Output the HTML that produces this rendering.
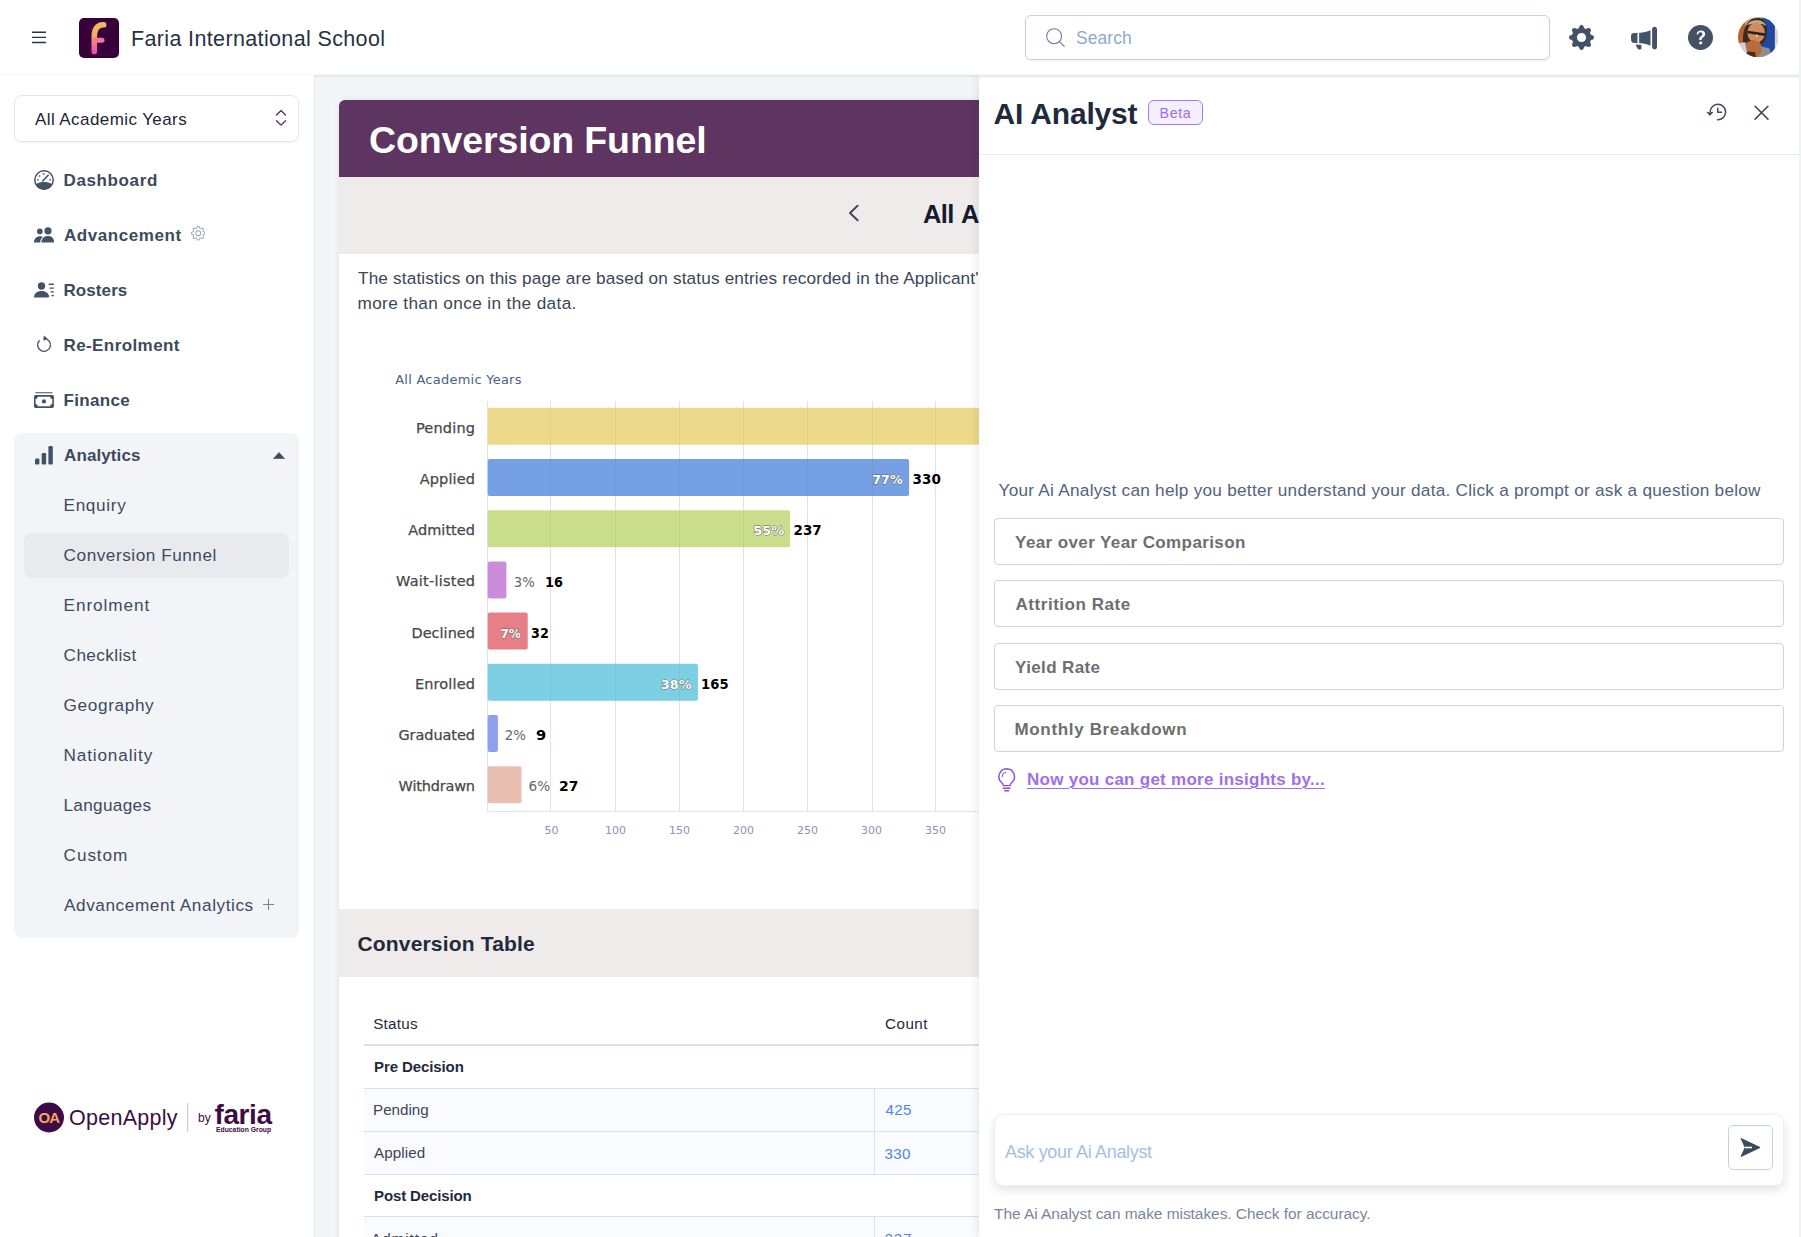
<!DOCTYPE html>
<html lang="en">
<head>
<meta charset="utf-8">
<title>Conversion Funnel - Faria International School</title>
<style>
*{box-sizing:border-box;margin:0;padding:0}
html,body{width:1801px;height:1237px;overflow:hidden;background:#fff}
body{font-family:"Liberation Sans",sans-serif;color:#3d4a5c;position:relative}
.abs{position:absolute}
.t{position:absolute;white-space:nowrap;line-height:1}
/* header */
#hdr{position:absolute;left:0;top:0;width:1799px;height:75px;background:#fff;z-index:8;border-bottom:1px solid #f7f8fa}
#edge{position:absolute;left:1799px;top:0;width:2px;height:1237px;background:#f1f3f7;z-index:20}
/* sidebar */
#side{position:absolute;left:0;top:75px;width:315px;height:1162px;background:#fff;border-right:1px solid #e6e9ee}
.nav{position:absolute;left:64px;font-weight:bold;font-size:17px;color:#3d4a5c;white-space:nowrap;line-height:20px}
.sub{position:absolute;left:64px;font-size:17.2px;color:#3d4a5c;white-space:nowrap;line-height:20px}
/* main */
#main{position:absolute;left:315px;top:75px;width:664px;height:1162px;background:#f3f6f8;overflow:hidden;box-shadow:inset 0 3px 3px -2px rgba(0,0,0,.10)}
/* panel */
#panel{position:absolute;left:979px;top:75px;width:820px;height:1162px;background:#fff;border-top:2px solid #e9ebee;z-index:6;box-shadow:-3px 0 8px rgba(16,24,40,.07)}
.prompt{position:absolute;left:15px;width:790px;height:47px;border:1px solid #cfd4dc;border-radius:4px;background:#fff}
.prompt span{position:absolute;left:20px;top:13px;font-weight:bold;font-size:17px;color:#6e6e6e;white-space:nowrap;line-height:20px}
/*FIT*/
#h_title{letter-spacing:0.360px;margin-left:0.00px;margin-top:1.00px}
#h_search{letter-spacing:0.042px;margin-left:0.00px;margin-top:1.00px}
#s_sel{letter-spacing:0.412px;margin-left:0.06px;margin-top:1.00px}
#n1{letter-spacing:0.625px;margin-left:-0.50px;margin-top:1.00px}
#n2{letter-spacing:0.556px;margin-left:0.00px;margin-top:1.00px}
#n3{letter-spacing:0.083px;margin-left:-0.50px;margin-top:1.00px}
#n4{letter-spacing:0.410px;margin-left:-0.50px;margin-top:1.00px}
#n5{letter-spacing:0.332px;margin-left:-0.50px;margin-top:1.00px}
#n6{letter-spacing:0.108px;margin-left:0.00px;margin-top:1.00px}
#u1{letter-spacing:0.667px;margin-left:-0.50px;margin-top:1.00px}
#u2{letter-spacing:0.531px;margin-left:-0.40px;margin-top:1.00px}
#u3{letter-spacing:0.935px;margin-left:-0.50px;margin-top:1.00px}
#u4{letter-spacing:0.378px;margin-left:-0.40px;margin-top:1.00px}
#u5{letter-spacing:0.631px;margin-left:-0.40px;margin-top:1.00px}
#u6{letter-spacing:0.850px;margin-left:-0.50px;margin-top:1.00px}
#u7{letter-spacing:0.315px;margin-left:-0.50px;margin-top:1.00px}
#u8{letter-spacing:0.900px;margin-left:-0.40px;margin-top:1.00px}
#u9{letter-spacing:0.575px;margin-left:0.00px;margin-top:1.00px}
#m_title{letter-spacing:-0.124px;margin-left:0.00px;margin-top:1.00px}
#m_all{letter-spacing:-0.700px;margin-left:-0.93px;margin-top:1.00px}
#m_p1{letter-spacing:0.154px;margin-left:0.00px;margin-top:1.00px}
#m_p2{letter-spacing:0.371px;margin-left:-0.50px;margin-top:1.00px}
#m_ct{letter-spacing:0.180px;margin-left:-0.60px;margin-top:1.00px}
#t_status{letter-spacing:0.268px;margin-left:-0.83px;margin-top:0.00px}
#t_count{letter-spacing:0.500px;margin-left:0.00px;margin-top:0.00px}
#t_pre{letter-spacing:-0.093px;margin-left:0.00px;margin-top:-1.00px}
#t_pend{letter-spacing:0.000px;margin-left:-1.00px;margin-top:0.00px}
#t_425{letter-spacing:0.250px;margin-left:0.50px;margin-top:0.00px}
#t_appl{letter-spacing:0.083px;margin-left:0.00px;margin-top:-1.00px}
#t_330{letter-spacing:0.250px;margin-left:-0.50px;margin-top:0.00px}
#t_post{letter-spacing:-0.125px;margin-left:0.00px;margin-top:0.00px}
#t_adm{letter-spacing:1.001px;margin-left:-3.00px;margin-top:1.00px}
#t_237{letter-spacing:0.750px;margin-left:-0.50px;margin-top:1.00px}
#p_title{letter-spacing:-0.166px;margin-left:-0.50px;margin-top:2.00px}
#p_beta{letter-spacing:0.677px;margin-left:-0.50px;margin-top:0.00px}
#p_intro{letter-spacing:0.264px;margin-left:-0.50px;margin-top:1.00px}
#p_pr1{letter-spacing:0.395px;margin-left:0.10px;margin-top:1.00px}
#p_pr2{letter-spacing:0.543px;margin-left:0.50px;margin-top:1.00px}
#p_pr3{letter-spacing:0.368px;margin-left:0.10px;margin-top:1.00px}
#p_pr4{letter-spacing:0.657px;margin-left:-0.50px;margin-top:1.00px}
#p_link{letter-spacing:0.265px;margin-left:1.00px;margin-top:0.00px}
#p_ask{letter-spacing:-0.334px;margin-left:0.00px;margin-top:0.00px}
#p_note{letter-spacing:-0.057px;margin-left:-0.03px;margin-top:1.00px}
/*ENDFIT*/
</style>
</head>
<body>

<!-- ================= HEADER ================= -->
<div id="hdr">
  <svg class="abs" style="left:32px;top:31px" width="14" height="13" viewBox="0 0 14 13"><path d="M0 1.3H14M0 6.4H14M0 11.5H14" stroke="#2a3446" stroke-width="1.4" fill="none"/></svg>
  <svg class="abs" style="left:79px;top:17.5px" width="40" height="40" viewBox="0 0 40 40">
    <defs><linearGradient id="fg" x1="0" y1="0" x2="0" y2="1"><stop offset="0" stop-color="#f4b95a"/><stop offset=".45" stop-color="#f2a668"/><stop offset="1" stop-color="#ee4fa8"/></linearGradient></defs>
    <rect width="40" height="40" rx="5" fill="#37003b"/>
    <path d="M24.600 6.800C18.500 6.600 15.300 11 15.300 18V33.400" stroke="url(#fg)" stroke-width="5.600" stroke-linecap="round" fill="none"/>
    <path d="M16 22.3H23" stroke="#f0799a" stroke-width="5" stroke-linecap="round" fill="none"/>
  </svg>
  <div class="t" id="h_title" style="left:131px;top:28px;font-size:21.5px;color:#273142">Faria International School</div>

  <div class="abs" style="left:1025px;top:15px;width:525px;height:45px;border:1px solid #c7d0dd;border-radius:6px;box-shadow:0 1px 2px rgba(16,24,40,.06)"></div>
  <svg class="abs" style="left:1045px;top:27px" width="21" height="21" viewBox="0 0 21 21"><circle cx="9.1" cy="9.2" r="7.5" stroke="#6a7f9f" stroke-width="1.1" fill="none"/><path d="M14.5 14.6L19.2 19.4" stroke="#6a7f9f" stroke-width="1.2" stroke-linecap="round"/></svg>
  <div class="t" id="h_search" style="left:1076px;top:29px;font-size:17.5px;color:#8eaacd">Search</div>

  <!-- gear -->
  <svg class="abs" style="left:1569px;top:25px" width="25" height="25" viewBox="0 0 16 16"><path fill="#445268" d="M9.405 1.05c-.413-1.4-2.397-1.4-2.81 0l-.1.34a1.464 1.464 0 0 1-2.105.872l-.31-.17c-1.283-.698-2.686.705-1.987 1.987l.169.311c.446.82.023 1.841-.872 2.105l-.34.1c-1.4.413-1.4 2.397 0 2.81l.34.1a1.464 1.464 0 0 1 .872 2.105l-.17.31c-.698 1.283.705 2.686 1.987 1.987l.311-.169a1.464 1.464 0 0 1 2.105.872l.1.34c.413 1.4 2.397 1.4 2.81 0l.1-.34a1.464 1.464 0 0 1 2.105-.872l.31.17c1.283.698 2.686-.705 1.987-1.987l-.169-.311a1.464 1.464 0 0 1 .872-2.105l.34-.1c1.400-.413 1.400-2.397 0-2.810l-.340-.100a1.464 1.464 0 0 1-.872-2.105l.170-.310c.698-1.283-.705-2.686-1.987-1.987l-.311.169a1.464 1.464 0 0 1-2.105-.872zM8 10.930a2.929 2.929 0 1 1 0-5.860 2.929 2.929 0 0 1 0 5.858z"/></svg>
  <!-- megaphone -->
  <svg class="abs" style="left:1631px;top:25px" width="26" height="26" viewBox="0 0 16 16"><path fill="#445268" d="M13 2.500a1.500 1.500 0 0 1 3 0v11a1.500 1.500 0 0 1-3 0zm-1 .724c-2.067.950-4.539 1.481-7 1.656v6.237a25 25 0 0 1 1.088.085c2.053.204 4.038.668 5.912 1.560zm-8 7.841V4.934c-.680.027-1.399.043-2.008.053A2.020 2.020 0 0 0 0 7v2c0 1.106.896 1.996 1.994 2.009l.496.008a64 64 0 0 1 1.510.048m1.390 1.081q.428.032.850.078l.253 1.690a1 1 0 0 1-.983 1.187h-.548a1 1 0 0 1-.916-.599l-1.314-2.480a66 66 0 0 1 1.692.064q.491.026.966.060"/></svg>
  <!-- help -->
  <svg class="abs" style="left:1687.7px;top:25px" width="25" height="25" viewBox="0 0 16 16"><path fill="#445268" d="M16 8A8 8 0 1 1 0 8a8 8 0 0 1 16 0M5.496 6.033h.825c.138 0 .248-.113.266-.250.090-.656.540-1.134 1.342-1.134.686 0 1.314.343 1.314 1.168 0 .635-.374.927-.965 1.371-.673.489-1.206 1.060-1.168 1.987l.3.217a.250.250 0 0 0 .250.246h.811a.250.250 0 0 0 .250-.250v-.105c0-.718.273-.927 1.010-1.486.609-.463 1.244-.977 1.244-2.056 0-1.511-1.276-2.241-2.673-2.241-1.267 0-2.655.590-2.750 2.286a.237.237 0 0 0 .241.247m2.325 6.443c.610 0 1.029-.394 1.029-.927 0-.552-.420-.940-1.029-.940-.584 0-1.009.388-1.009.940 0 .533.425.927 1.010.927z"/></svg>
  <!-- avatar -->
  <svg class="abs" style="left:1737.500px;top:17px" width="40.400" height="40.400" viewBox="0 0 40 40">
    <defs><clipPath id="av"><circle cx="20" cy="20" r="20"/></clipPath><filter id="avb" x="-10%" y="-10%" width="120%" height="120%"><feGaussianBlur stdDeviation=".7"/></filter></defs>
    <g clip-path="url(#av)"><g filter="url(#avb)">
      <rect x="-2" y="-2" width="44" height="44" fill="#c9a98a"/>
      <rect x="-2" y="-2" width="9" height="32" fill="#b4642c"/>
      <path d="M5 27C4 12 9 1 19 1S31 8 30 24L24 30H8Z" fill="#3b2b20"/>
      <path d="M9 8C11 2 26 1 28 9L24 7H13Z" fill="#b9aa8c"/>
      <path d="M22 -2L34 2L38 10V32L33 38L22 30L28 21L29 9Z" fill="#2149a2"/>
      <rect x="36.500" y="-2" width="6" height="44" fill="#dad7cb"/>
      <ellipse cx="18" cy="15.500" rx="8.600" ry="10" fill="#d08c5e"/>
      <path d="M9.500 13.600L27 16.200L26.800 18.800L18 17.500L9.300 16.200Z" fill="#2b2422"/>
      <path d="M18.500 16.500L20 19.500L17.500 19.500Z" fill="#f3d9c4"/>
      <path d="M7 26L15 22.500L22 25.500L25 33L19 41H8Z" fill="#b56d3e"/>
      <path d="M7 34L17 35L18 42H7Z" fill="#43301f"/>
      <path d="M22 29L31 31L33 38L25 42L20 40L24 34Z" fill="#8d8e92"/>
      <path d="M0 26L7 25L9 36L3 36Z" fill="#cfd2d9"/>
    </g></g>
  </svg>
</div>

<!-- ================= SIDEBAR ================= -->
<div id="side">
  <div class="abs" style="left:14px;top:20px;width:285px;height:47px;border:1px solid #e5e4ec;border-radius:8px;box-shadow:0 1px 2px rgba(16,24,40,.05)"></div>
  <div class="t" id="s_sel" style="left:35px;top:35px;font-size:17px;color:#1e2635">All Academic Years</div>
  <svg class="abs" style="left:275px;top:34px" width="12" height="19" viewBox="0 0 12 19"><path d="M1.500 6L6 1.500L10.500 6M1.500 11.700L6 16.100L10.500 11.700" stroke="#5b2a66" stroke-width="1.300" fill="none" stroke-linecap="round" stroke-linejoin="round"/></svg>

  <!-- icons -->
  <svg class="abs" style="left:34px;top:95px" width="20" height="20" viewBox="0 0 20 20"><circle cx="10" cy="10" r="9.200" fill="none" stroke="#445268" stroke-width="1.500"/><path d="M1.800 14.200C4.200 12.500 7 12 10 12S15.800 12.500 18.200 14.200A8.900 8.900 0 0 1 1.800 14.200Z" fill="#445268"/><path d="M8.700 11L14.200 5.300" stroke="#445268" stroke-width="1.600" stroke-linecap="round"/><circle cx="5.600" cy="6" r=".85" fill="#445268"/><circle cx="9.600" cy="3.900" r=".85" fill="#445268"/><circle cx="3.900" cy="9.800" r=".85" fill="#445268"/><circle cx="16.100" cy="9.800" r=".85" fill="#445268"/></svg>
  <svg class="abs" style="left:34px;top:152.200px" width="20" height="16" viewBox="0 0 20 16"><g fill="#445268"><circle cx="5.800" cy="4.400" r="2.800"/><circle cx="14" cy="3.800" r="3.600"/><path d="M7.500 15.500C7.500 11.500 10 9 14 9S20 11.500 20 14.500C20 15.200 19.600 15.500 19 15.500Z"/><path d="M0 15.500C0 11.800 2.500 9.300 6 9.300C7.200 9.300 8.200 9.600 9 10.100C7.200 11.400 6.300 13.200 6.300 15.500Z"/></g></svg>
  <svg class="abs" style="left:34px;top:207.200px" width="21" height="16" viewBox="0 0 21 16"><g fill="#445268"><circle cx="7.500" cy="4" r="3.700"/><path d="M0 15.500C0 11.500 3 9 7.500 9S15 11.500 15 14.500C15 15.200 14.600 15.500 14 15.500Z"/><rect x="14.500" y="1.600" width="5.500" height="1.300" rx=".6"/><rect x="15.500" y="5.400" width="4.500" height="1.300" rx=".6"/><rect x="16.500" y="9.200" width="3.500" height="1.300" rx=".6"/><rect x="17.300" y="13" width="2.700" height="1.300" rx=".6"/></g></svg>
  <svg class="abs" style="left:35px;top:259px" width="18" height="20" viewBox="0 0 18 20"><path d="M9 4.500A6.400 6.400 0 1 1 4.200 6.700" fill="none" stroke="#445268" stroke-width="1.400" stroke-linecap="round"/><path d="M8.700 1.500L12.300 4.300L8.700 7Z" fill="#445268"/></svg>
  <svg class="abs" style="left:34px;top:317px" width="20" height="17" viewBox="0 0 20 17"><rect x="1.200" y=".3" width="17.400" height="1" rx=".5" fill="#445268"/><rect x="0" y="3" width="19.900" height="12.900" rx="1.600" fill="#445268"/><path d="M3.800 4.700H16.100A2.200 2.200 0 0 0 18.300 6.900V12A2.200 2.200 0 0 0 16.100 14.200H3.800A2.200 2.200 0 0 0 1.600 12V6.900A2.200 2.200 0 0 0 3.800 4.700Z" fill="#fff"/><circle cx="9.950" cy="9.450" r="2.100" fill="#445268"/></svg>

  <div class="nav" id="n1" style="top:95px">Dashboard</div>
  <div class="nav" id="n2" style="top:150px">Advancement</div>
  <svg class="abs" style="left:190.500px;top:151px" width="14.500" height="14.500" viewBox="0 0 16 16"><path fill="#9aa3b2" d="M8 4.754a3.246 3.246 0 1 0 0 6.492 3.246 3.246 0 0 0 0-6.492M5.754 8a2.246 2.246 0 1 1 4.492 0 2.246 2.246 0 0 1-4.492 0"/><path fill="#9aa3b2" d="M9.796 1.343c-.527-1.790-3.065-1.790-3.592 0l-.094.319a.873.873 0 0 1-1.255.520l-.292-.160c-1.640-.892-3.433.902-2.540 2.541l.159.292a.873.873 0 0 1-.520 1.255l-.319.094c-1.790.527-1.790 3.065 0 3.592l.319.094a.873.873 0 0 1 .520 1.255l-.160.292c-.892 1.640.901 3.434 2.541 2.540l.292-.159a.873.873 0 0 1 1.255.520l.094.319c.527 1.790 3.065 1.790 3.592 0l.094-.319a.873.873 0 0 1 1.255-.520l.292.160c1.640.893 3.434-.902 2.540-2.541l-.159-.292a.873.873 0 0 1 .520-1.255l.319-.094c1.790-.527 1.790-3.065 0-3.592l-.319-.094a.873.873 0 0 1-.520-1.255l.160-.292c.893-1.640-.902-3.433-2.541-2.540l-.292.159a.873.873 0 0 1-1.255-.520zm-2.633.283c.246-.835 1.428-.835 1.674 0l.094.319a1.873 1.873 0 0 0 2.693 1.115l.291-.160c.764-.415 1.600.420 1.184 1.185l-.159.292a1.873 1.873 0 0 0 1.116 2.692l.318.094c.835.246.835 1.428 0 1.674l-.319.094a1.873 1.873 0 0 0-1.115 2.693l.160.291c.415.764-.420 1.600-1.185 1.184l-.291-.159a1.873 1.873 0 0 0-2.693 1.116l-.094.318c-.246.835-1.428.835-1.674 0l-.094-.319a1.873 1.873 0 0 0-2.692-1.115l-.292.160c-.764.415-1.600-.420-1.184-1.185l.159-.291A1.873 1.873 0 0 0 1.945 8.930l-.319-.094c-.835-.246-.835-1.428 0-1.674l.319-.094A1.873 1.873 0 0 0 3.060 4.377l-.160-.292c-.415-.764.420-1.600 1.185-1.184l.292.159a1.873 1.873 0 0 0 2.692-1.115z"/></svg>
  <div class="nav" id="n3" style="top:205px">Rosters</div>
  <div class="nav" id="n4" style="top:260px">Re-Enrolment</div>
  <div class="nav" id="n5" style="top:315px">Finance</div>

  <div class="abs" style="left:14px;top:358px;width:285px;height:505px;background:#f3f4f8;border-radius:8px"></div>
  <svg class="abs" style="left:35px;top:370.500px" width="18" height="19" viewBox="0 0 18 19"><g fill="#445268"><rect x="0" y="12.500" width="4.400" height="6" rx="1.200"/><rect x="6.700" y="7" width="4.400" height="11.500" rx="1.200"/><rect x="13.400" y="0" width="4.400" height="18.500" rx="1.200"/></g></svg>
  <div class="nav" id="n6" style="top:370px">Analytics</div>
  <svg class="abs" style="left:273px;top:377px" width="12" height="7" viewBox="0 0 12 7"><path d="M6 .5L11.500 6.500H.5Z" fill="#3d4a5c" stroke="#3d4a5c" stroke-width=".6" stroke-linejoin="round"/></svg>

  <div class="abs" style="left:24px;top:458px;width:265px;height:45px;background:#e9eaee;border-radius:8px"></div>
  <div class="sub" id="u1" style="top:419px">Enquiry</div>
  <div class="sub" id="u2" style="top:469px">Conversion Funnel</div>
  <div class="sub" id="u3" style="top:519px">Enrolment</div>
  <div class="sub" id="u4" style="top:569px">Checklist</div>
  <div class="sub" id="u5" style="top:619px">Geography</div>
  <div class="sub" id="u6" style="top:669px">Nationality</div>
  <div class="sub" id="u7" style="top:719px">Languages</div>
  <div class="sub" id="u8" style="top:769px">Custom</div>
  <div class="sub" id="u9" style="top:819px">Advancement Analytics</div>
  <svg class="abs" style="left:263px;top:824px" width="11" height="11" viewBox="0 0 11 11"><path d="M5.500 0V11M0 5.500H11" stroke="#7b8494" stroke-width="1.100"/></svg>

  <!-- footer logo -->
  <svg class="abs" style="left:34px;top:1027px" width="240" height="32" viewBox="0 0 240 32">
    <circle cx="15" cy="15.500" r="15" fill="#3d0b45"/>
    <text x="4.500" y="21" font-family="Liberation Sans, sans-serif" font-weight="bold" font-size="15" fill="#f3a55f" letter-spacing="-1">OA</text>
    <text x="35" y="23" font-family="Liberation Sans, sans-serif" font-size="21.500" fill="#3d0b45" textLength="108.500" lengthAdjust="spacing">OpenApply</text>
    <rect x="153" y="1" width="1.200" height="29" fill="#d9c9d6"/>
    <text x="164" y="20" font-family="Liberation Sans, sans-serif" font-size="12" fill="#3d0b45">by</text>
    <text x="180.500" y="22.200" font-family="Liberation Sans, sans-serif" font-weight="bold" font-size="28" fill="#3d0b45" textLength="57.500" lengthAdjust="spacing">faria</text>
    <text x="182" y="30" font-family="Liberation Sans, sans-serif" font-weight="bold" font-size="6.800" fill="#3d0b45">Education Group</text>
  </svg>
</div>

<!-- ================= MAIN ================= -->
<div id="main">
  <!-- coordinates inside #main are page - (315,75) -->
  <div class="abs" style="left:24px;top:25px;width:700px;height:1200px;background:#fff;border-radius:6px 6px 0 0;overflow:hidden;box-shadow:0 0 5px rgba(30,40,60,.10)">
    <div class="abs" style="left:0;top:0;width:700px;height:77px;background:#5e3461"></div>
    <div class="t" id="m_title" style="left:30px;top:21px;font-size:37.500px;font-weight:bold;color:#fff">Conversion Funnel</div>
    <div class="abs" style="left:0;top:77px;width:700px;height:76.500px;background:#efebeb"></div>
    <svg class="abs" style="left:509px;top:103.700px" width="11" height="18" viewBox="0 0 11 18"><path d="M9.600 1.700L2 9L9.600 16.300" stroke="#3d4a5c" stroke-width="2" fill="none" stroke-linecap="round" stroke-linejoin="round"/></svg>
    <div class="t" id="m_all" style="left:585px;top:101px;font-size:25.500px;font-weight:bold;color:#141b2d"><span id="m_all_a">All</span> <span id="m_all_b" style="margin-left:1px">A</span><span style="margin-left:6px">cademic Years</span></div>

    <div class="t" id="m_p1" style="left:19px;top:169px;font-size:17.200px;color:#3d4556"><span id="m_p1a">The statistics on this page are based on status entries recorded in the Applican</span>t's history, so an applicant may appear</div>
    <div class="t" id="m_p2" style="left:19px;top:194px;font-size:17.200px;color:#3d4556">more than once in the data.</div>

    <!-- chart -->
    <svg class="abs" style="left:0;top:250px" width="700" height="520" viewBox="0 0 700 520" font-family="DejaVu Sans, Liberation Sans, sans-serif">
      <!-- svg origin = page (339,350) -->
      <g stroke="#ebedf2" stroke-width="1">
        <path d="M211.500 51V461M276.500 51V461M340.500 51V461M404.500 51V461M468.500 51V461M533.500 51V461M596.500 51V461M660.500 51V461"/>
      </g>
      <path d="M148.500 51V461.500H700" stroke="#dfe3ee" stroke-width="1" fill="none"/>
      <text x="56.200" y="33.700" font-size="13" fill="#4a5f85" textLength="126.300" lengthAdjust="spacing">All Academic Years</text>
      <g>
        <rect x="148.700" y="57.8" width="551.0" height="37" rx="2" fill="#ecd98a"/>
        <rect x="148.700" y="109.0" width="421.4" height="37" rx="2" fill="#76a0e4"/>
        <rect x="148.700" y="160.2" width="302.4" height="37" rx="2" fill="#c9dd8b"/>
        <rect x="148.700" y="211.4" width="18.7" height="37" rx="2" fill="#cc8cdc"/>
        <rect x="148.700" y="262.6" width="40.0" height="37" rx="2" fill="#e67f86"/>
        <rect x="148.700" y="313.8" width="210.3" height="37" rx="2" fill="#7dd0e4"/>
        <rect x="148.700" y="365.0" width="10.2" height="37" rx="2" fill="#8c9ff0"/>
        <rect x="148.700" y="416.2" width="33.8" height="37" rx="2" fill="#e8bfb0"/>
      </g>
      <path d="M211.500 51V461M276.500 51V461M340.500 51V461M404.500 51V461M468.500 51V461M533.500 51V461M596.500 51V461M660.500 51V461" stroke="#000" stroke-opacity=".045" stroke-width="1"/>
      <g font-size="14.500" fill="#484848" stroke="#484848" stroke-width=".25">
        <text x="76.9" y="82.8" textLength="59.1" lengthAdjust="spacing">Pending</text>
        <text x="80.7" y="133.9" textLength="55.3" lengthAdjust="spacing">Applied</text>
        <text x="69.2" y="184.7" textLength="66.8" lengthAdjust="spacing">Admitted</text>
        <text x="57.0" y="236.0" textLength="79.0" lengthAdjust="spacing">Wait-listed</text>
        <text x="72.5" y="287.5" textLength="63.5" lengthAdjust="spacing">Declined</text>
        <text x="75.9" y="338.6" textLength="60.1" lengthAdjust="spacing">Enrolled</text>
        <text x="59.4" y="389.8" textLength="76.6" lengthAdjust="spacing">Graduated</text>
        <text x="59.6" y="441.0" textLength="76.4" lengthAdjust="spacing">Withdrawn</text>
      </g>
      <g font-size="13" font-weight="bold" fill="#fff" stroke="#5f5f5f" stroke-width=".9" stroke-linejoin="round" paint-order="stroke">
        <text x="533.3" y="134.1" textLength="30.3" lengthAdjust="spacingAndGlyphs">77%</text>
        <text x="414.2" y="185.3" textLength="31.1" lengthAdjust="spacingAndGlyphs">55%</text>
        <text x="161.4" y="287.7" textLength="20.5" lengthAdjust="spacingAndGlyphs">7%</text>
        <text x="321.8" y="338.9" textLength="30.8" lengthAdjust="spacingAndGlyphs">38%</text>
      </g>
      <g font-size="13.500" fill="#666">
        <text x="174.8" y="236.5" textLength="20.9" lengthAdjust="spacingAndGlyphs">3%</text>
        <text x="165.7" y="390.1" textLength="21.2" lengthAdjust="spacingAndGlyphs">2%</text>
        <text x="189.5" y="441.3" textLength="21.6" lengthAdjust="spacingAndGlyphs">6%</text>
      </g>
      <g font-size="13.500" fill="#000" font-weight="bold">
        <text x="573.6" y="134.1" textLength="28.2" lengthAdjust="spacingAndGlyphs">330</text>
        <text x="454.5" y="185.3" textLength="28.2" lengthAdjust="spacingAndGlyphs">237</text>
        <text x="206.1" y="236.5" textLength="17.9" lengthAdjust="spacingAndGlyphs">16</text>
        <text x="192.1" y="287.7" textLength="17.8" lengthAdjust="spacingAndGlyphs">32</text>
        <text x="362.1" y="338.9" textLength="27.5" lengthAdjust="spacingAndGlyphs">165</text>
        <text x="196.9" y="390.1" textLength="10.2" lengthAdjust="spacingAndGlyphs">9</text>
        <text x="220.0" y="441.3" textLength="19.4" lengthAdjust="spacingAndGlyphs">27</text>
      </g>
      <g font-size="11" fill="#8a93b5" text-anchor="middle">
        <text x="212.500" y="483.500">50</text>
        <text x="276.500" y="483.500">100</text>
        <text x="340.500" y="483.500">150</text>
        <text x="404.500" y="483.500">200</text>
        <text x="468.500" y="483.500">250</text>
        <text x="532.500" y="483.500">300</text>
        <text x="596.500" y="483.500">350</text>
        <text x="660.500" y="483.500">400</text>
      </g>
    </svg>

    <!-- conversion table -->
    <div class="abs" style="left:0;top:809px;width:700px;height:68px;background:#efebeb"></div>
    <div class="t" id="m_ct" style="left:19px;top:832px;font-size:21px;font-weight:bold;color:#1f2a3d">Conversion Table</div>

    <div class="t" id="t_status" style="left:35px;top:916px;font-size:15.200px;color:#1f2a3d">Status</div>
    <div class="t" id="t_count" style="left:546px;top:916px;font-size:15.200px;color:#1f2a3d">Count</div>
    <div class="abs" style="left:25px;top:944px;width:675px;height:2px;background:#d4e2f4"></div>
    <div class="t" id="t_pre" style="left:35px;top:960px;font-size:15px;font-weight:bold;color:#1f2a3d">Pre Decision</div>
    <div class="abs" style="left:25px;top:989px;width:675px;height:85px;background:#f9fbfe"></div>
    <div class="abs" style="left:25px;top:988px;width:675px;height:1px;background:#d4e2f4"></div>
    <div class="t" id="t_pend" style="left:35px;top:1002px;font-size:15.200px;color:#3d4556">Pending</div>
    <div class="t" id="t_425" style="left:546px;top:1002px;font-size:15.200px;color:#4f86e8">425</div>
    <div class="abs" style="left:25px;top:1031px;width:675px;height:1px;background:#d4e2f4"></div>
    <div class="t" id="t_appl" style="left:35px;top:1046px;font-size:15.200px;color:#3d4556">Applied</div>
    <div class="t" id="t_330" style="left:546px;top:1046px;font-size:15.200px;color:#4f86e8">330</div>
    <div class="abs" style="left:25px;top:1074px;width:675px;height:1px;background:#d4e2f4"></div>
    <div class="t" id="t_post" style="left:35px;top:1088px;font-size:15px;font-weight:bold;color:#1f2a3d">Post Decision</div>
    <div class="abs" style="left:25px;top:1117px;width:675px;height:60px;background:#f9fbfe"></div>
    <div class="abs" style="left:25px;top:1116px;width:675px;height:1px;background:#d4e2f4"></div>
    <div class="t" id="t_adm" style="left:35px;top:1130px;font-size:15.200px;color:#3d4556">Admitted</div>
    <div class="t" id="t_237" style="left:546px;top:1130px;font-size:15.200px;color:#4f86e8">237</div>
    <div class="abs" style="left:535px;top:989px;width:1px;height:85px;background:#d4e2f4"></div>
    <div class="abs" style="left:535px;top:1117px;width:1px;height:60px;background:#d4e2f4"></div>
  </div>
</div>

<!-- ================= AI PANEL ================= -->
<div id="panel">
  <!-- coordinates inside #panel are page - (979,77) because of the 2px top border -->
  <div class="abs" style="left:0;top:0;width:820px;height:1px;background:#f3f4f6"></div>
  <div class="t" id="p_title" style="left:15px;top:20px;font-size:30px;font-weight:bold;color:#1f2a3d">AI Analyst</div>
  <div class="abs" style="left:169px;top:23px;width:55px;height:25px;border:1.400px solid #a57df0;border-radius:6px;background:#f5f0ff"></div>
  <div class="t" id="p_beta" style="left:181px;top:29px;font-size:14.200px;color:#9c6cf0">Beta</div>
  <svg class="abs" style="left:727px;top:26px" width="21" height="19" viewBox="0 0 21 19"><path d="M4.200 9.300A7.700 7.700 0 1 1 11.600 16.700" fill="none" stroke="#3d4a5c" stroke-width="1.500" stroke-linecap="round"/><path d="M1.100 9.200L3.900 12.400L6.900 9.100L4 10.300Z" fill="#3d4a5c" stroke="#3d4a5c" stroke-width="1" stroke-linejoin="round"/><path d="M11.700 5.300V9.300H15.600" fill="none" stroke="#3d4a5c" stroke-width="1.500" stroke-linecap="round" stroke-linejoin="round"/></svg>
  <svg class="abs" style="left:775px;top:28px" width="15" height="15" viewBox="0 0 15 15"><path d="M1.100 1.300L13.900 14.100M13.900 1.300L1.100 14.100" stroke="#3d4a5c" stroke-width="1.600" stroke-linecap="round"/></svg>
  <div class="abs" style="left:0;top:77px;width:820px;height:1px;background:#e6e9ee"></div>

  <div class="t" id="p_intro" style="left:20px;top:404px;font-size:17.200px;color:#53627a">Your Ai Analyst can help you better understand your data. Click a prompt or ask a question below</div>
  <div class="prompt" style="top:441px"><span id="p_pr1">Year over Year Comparison</span></div>
  <div class="prompt" style="top:503px"><span id="p_pr2">Attrition Rate</span></div>
  <div class="prompt" style="top:566px"><span id="p_pr3">Yield Rate</span></div>
  <div class="prompt" style="top:628px"><span id="p_pr4">Monthly Breakdown</span></div>

  <svg class="abs" style="left:18px;top:690px" width="20" height="26" viewBox="0 0 20 26"><path d="M9.700 1.700A8 8 0 0 0 5 16C5.800 16.700 6.200 17.500 6.300 18.600H13.100C13.200 17.500 13.600 16.700 14.400 16A8 8 0 0 0 9.700 1.700Z" fill="none" stroke="#8b4fe0" stroke-width="1.400" stroke-linejoin="round"/><path d="M6.300 21.200H13.100M7.700 23.800H11.700" stroke="#8b4fe0" stroke-width="1.400" stroke-linecap="round"/><path d="M5.300 9.600A4.600 4.600 0 0 1 8.800 5.200" fill="none" stroke="#8b4fe0" stroke-width="1.100" stroke-linecap="round"/></svg>
  <div class="t" id="p_link" style="left:47px;top:694px;font-size:17px;font-weight:bold;color:#a070ea;text-decoration:underline;text-decoration-thickness:1.300px;text-underline-offset:3px">Now you can get more insights by...</div>

  <div class="abs" style="left:15px;top:1037px;width:790px;height:72px;border-radius:9px;background:#fff;border:1px solid #eceff4;box-shadow:0 4px 10px rgba(16,24,40,.12)"></div>
  <div class="t" id="p_ask" style="left:26px;top:1066px;font-size:18px;color:#a3bfe3">Ask your Ai Analyst</div>
  <div class="abs" style="left:749px;top:1048px;width:45px;height:45px;border:1px solid #c7d0dd;border-radius:5px;background:#fff"></div>
  <svg class="abs" style="left:761px;top:1060px" width="21" height="21" viewBox="0 0 21 21"><path d="M1 1.500L20 10.500L1 19.500L5.200 10.500Z" fill="#3d4a5c" stroke="#3d4a5c" stroke-width="1" stroke-linejoin="round"/><path d="M5 10.500H12" stroke="#fff" stroke-width="1.600"/></svg>
  <div class="t" id="p_note" style="left:15px;top:1128px;font-size:15.500px;color:#7a869a">The Ai Analyst can make mistakes. Check for accuracy.</div>
</div>

<div id="edge"></div>
</body>
</html>
